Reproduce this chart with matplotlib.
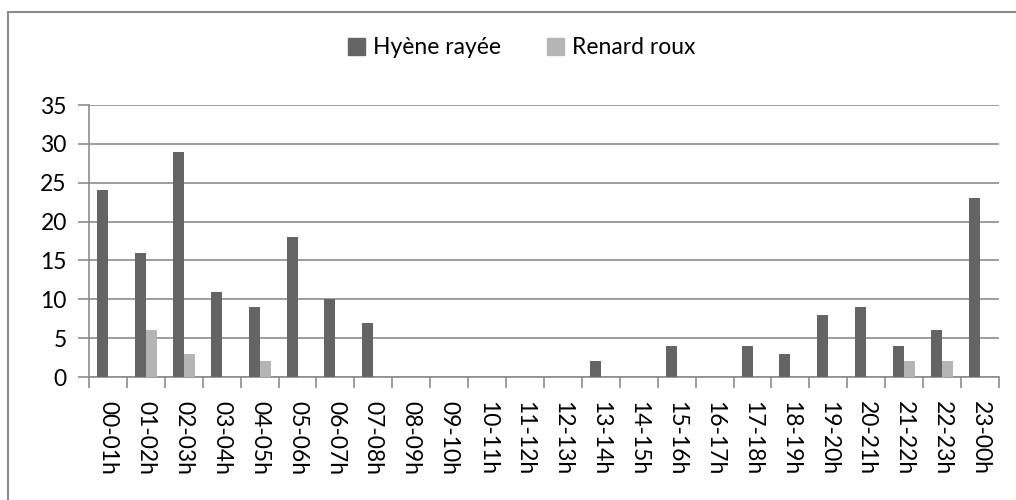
import numpy as np
import matplotlib
matplotlib.use("Agg")
import matplotlib.pyplot as plt
from matplotlib.patches import Rectangle, Patch

HOURS = ["00-01h", "01-02h", "02-03h", "03-04h", "04-05h", "05-06h", "06-07h",
         "07-08h", "08-09h", "09-10h", "10-11h", "11-12h", "12-13h", "13-14h",
         "14-15h", "15-16h", "16-17h", "17-18h", "18-19h", "19-20h", "20-21h",
         "21-22h", "22-23h", "23-00h"]
HYENE = [24, 16, 29, 11, 9, 18, 10, 7, 0, 0, 0, 0, 0, 2, 0, 4, 0, 4, 3, 8, 9, 4, 6, 23]
RENARD = [0, 6, 3, 0, 2, 0, 0, 0, 0, 0, 0, 0, 0, 0, 0, 0, 0, 0, 0, 0, 0, 2, 2, 0]

DARK = "#646464"
LIGHT = "#b4b4b4"
GRID = "#8c8c8c"
FS = 16.5

plt.rcParams["font.family"] = ["Lato", "DejaVu Sans"]

fig = plt.figure(figsize=(10.16, 5.0), dpi=100)
fig.patches.append(Rectangle((8 / 1016, -0.1), 1.2, 1.1 - 12 / 500,
                             transform=fig.transFigure, fill=False,
                             edgecolor="#8a8a8a", linewidth=1.5))

ax = fig.add_axes([89 / 1016, 1 - 377 / 500, (999 - 89) / 1016, (377 - 105) / 500])

x = np.arange(len(HOURS))
w = 0.29
ax.bar(x - w / 2, HYENE, w, color=DARK, label="Hyène rayée", zorder=3)
ax.bar(x + w / 2, RENARD, w, color=LIGHT, label="Renard roux", zorder=3)

ax.set_xlim(-0.5, len(HOURS) - 0.5)
ax.set_ylim(0, 35)
ax.set_yticks(range(0, 36, 5))
ax.yaxis.grid(True, color=GRID, linewidth=1.2, zorder=0)

# category ticks sit on the boundaries between hours
ax.set_xticks(np.arange(-0.5, len(HOURS), 1.0), minor=False)
ax.set_xticklabels([])
ax.set_xticks(x, minor=True)
ax.set_xticklabels(HOURS, minor=True, rotation=-90, fontsize=FS)
ax.tick_params(axis="x", which="major", length=8, color=GRID, width=1.2)
ax.tick_params(axis="x", which="minor", length=0, pad=17)
ax.tick_params(axis="y", length=8, color=GRID, width=1.2, labelsize=FS, pad=8)

for side in ("top", "right"):
    ax.spines[side].set_visible(False)
for side in ("left", "bottom"):
    ax.spines[side].set_color(GRID)
    ax.spines[side].set_linewidth(1.2)

handles = [Patch(color=DARK, label="Hyène rayée"), Patch(color=LIGHT, label="Renard roux")]
fig.legend(handles=handles, loc="center", bbox_to_anchor=(522 / 1016, 1 - 48 / 500),
           ncol=2, frameon=False, fontsize=FS, handlelength=0.75, handleheight=0.75,
           handletextpad=0.35, columnspacing=2.0)

fig.savefig("out.png", dpi=100)
